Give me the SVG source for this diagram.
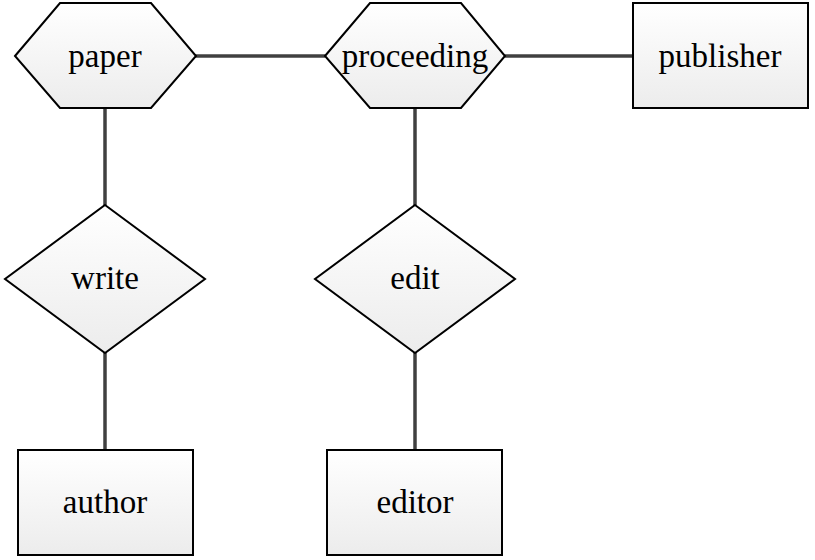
<svg xmlns="http://www.w3.org/2000/svg" width="815" height="560" viewBox="0 0 815 560">
<defs>
<linearGradient id="g" x1="0" y1="0" x2="0" y2="1">
<stop offset="0" stop-color="#ffffff"/>
<stop offset="1" stop-color="#ececec"/>
</linearGradient>
<style>
.s{fill:url(#g);stroke:#000;stroke-width:2}
.t{font-family:"Liberation Serif","Times New Roman",serif;font-size:33px;fill:#000;text-anchor:middle}
.c{stroke:#404040;stroke-width:3.5;fill:none}
</style>
</defs>
<rect width="815" height="560" fill="#fff"/>
<g id="connectors">
<line class="c" x1="195" y1="56" x2="325" y2="56"/>
<line class="c" x1="505" y1="56" x2="633" y2="56"/>
<line class="c" x1="105" y1="108" x2="105" y2="205"/>
<line class="c" x1="105" y1="353" x2="105" y2="450"/>
<line class="c" x1="415" y1="108" x2="415" y2="205"/>
<line class="c" x1="415" y1="353" x2="415" y2="450"/>
</g>
<g id="paper">
<polygon class="s" points="15,56 60,3 151,3 196,56 151,108 60,108"/>
<text class="t" x="105" y="67">paper</text>
</g>
<g id="proceeding">
<polygon class="s" points="325,56 370,3 461,3 505,56 461,108 370,108"/>
<text class="t" x="415" y="67">proceeding</text>
</g>
<g id="publisher">
<rect class="s" x="633" y="3" width="175" height="105"/>
<text class="t" x="720" y="67">publisher</text>
</g>
<g id="write">
<polygon class="s" points="105,205 205,279 105,353 5,279"/>
<text class="t" x="105" y="289">write</text>
</g>
<g id="edit">
<polygon class="s" points="415,205 515,279 415,353 315,279"/>
<text class="t" x="415" y="289">edit</text>
</g>
<g id="author">
<rect class="s" x="18" y="450" width="175" height="105"/>
<text class="t" x="105" y="513">author</text>
</g>
<g id="editor">
<rect class="s" x="327" y="450" width="175" height="105"/>
<text class="t" x="415" y="513">editor</text>
</g>
</svg>
